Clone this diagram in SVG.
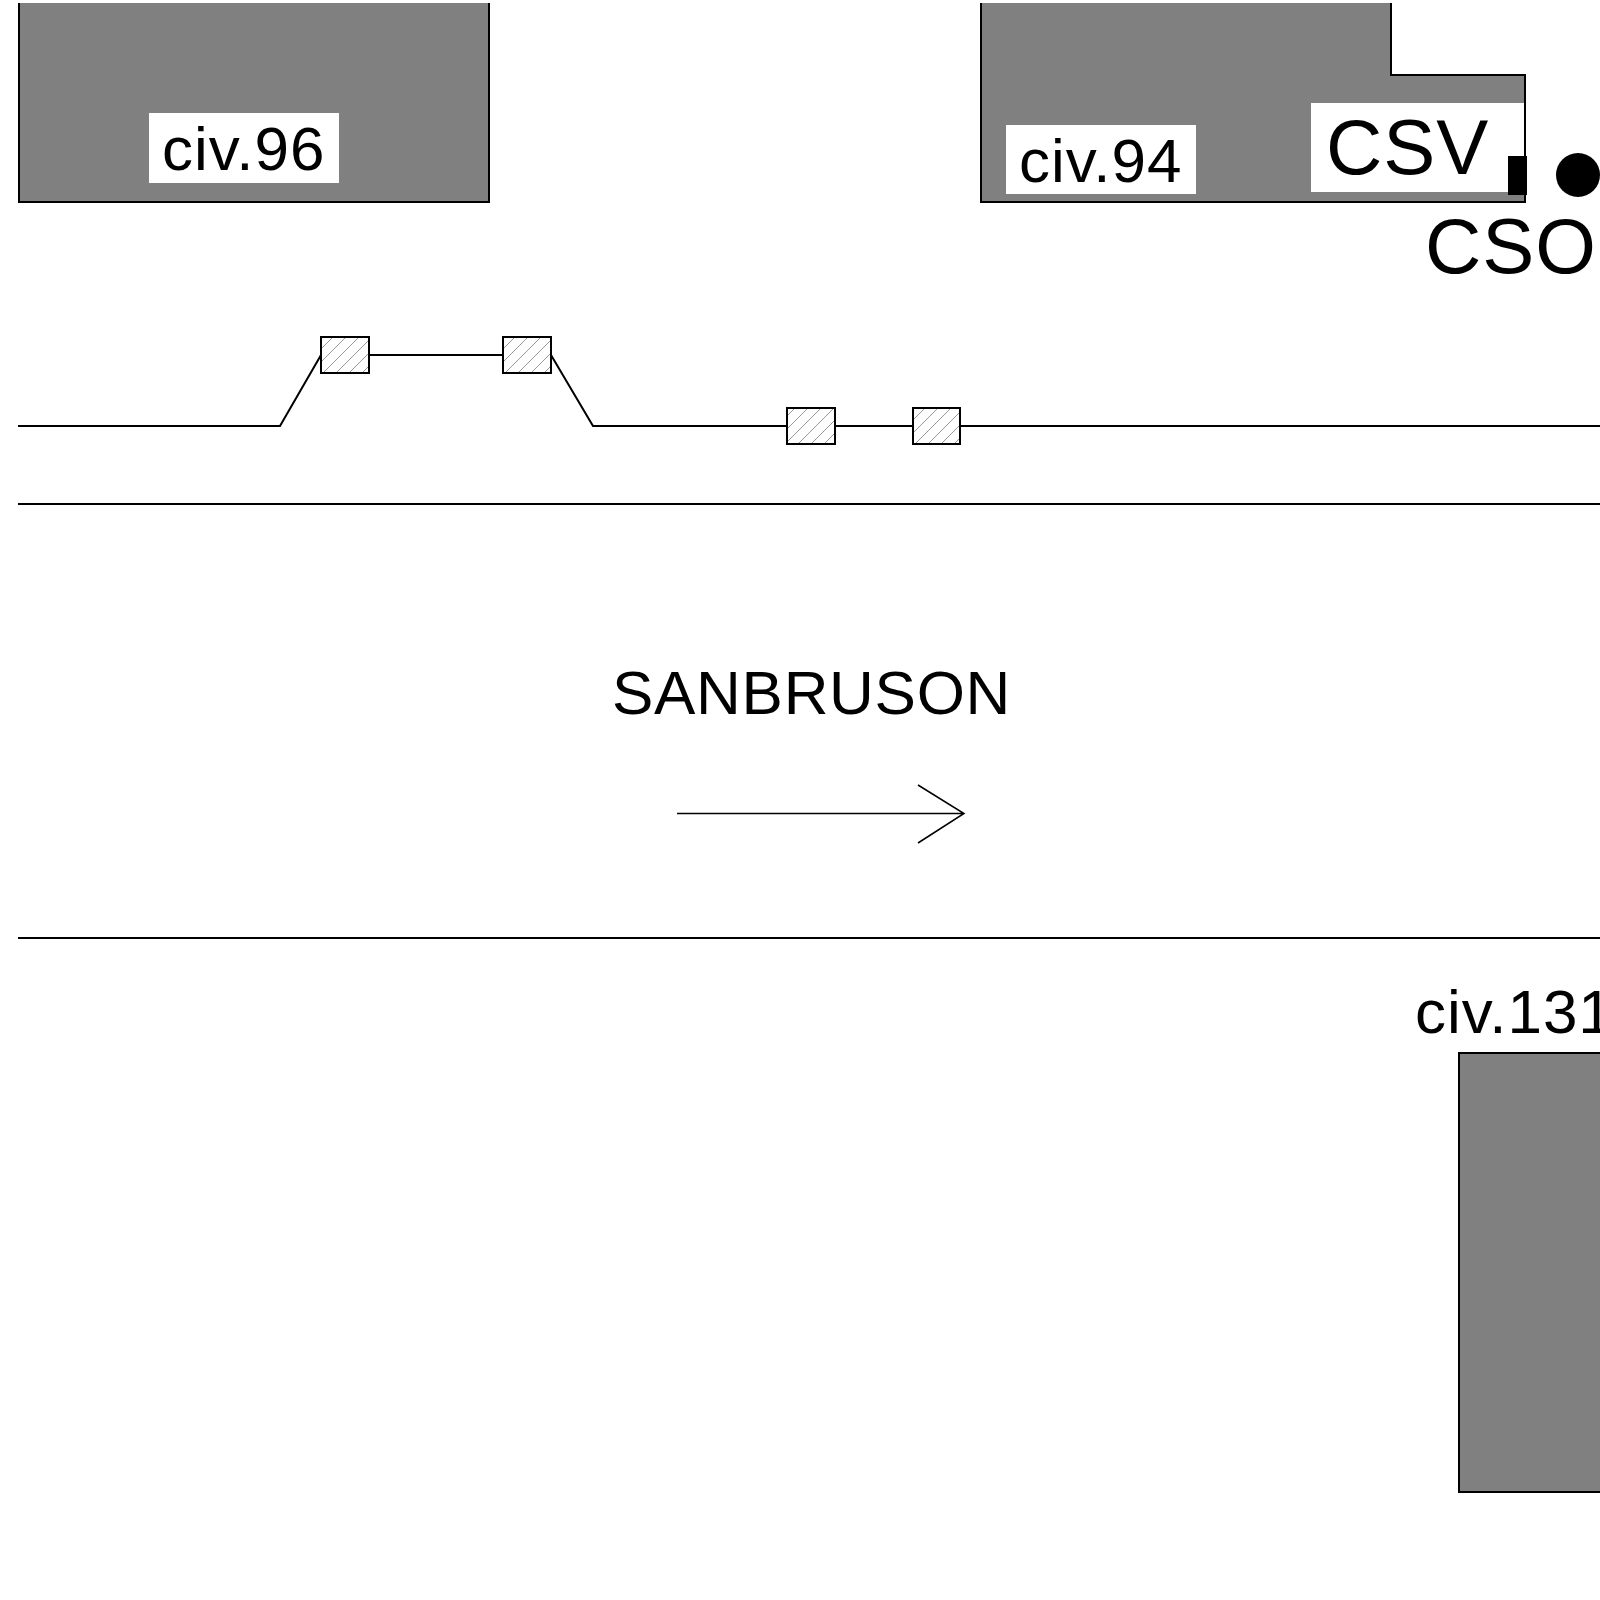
<svg xmlns="http://www.w3.org/2000/svg" width="1600" height="1600" viewBox="0 0 1600 1600">
<style>
.b{fill:#808080;stroke:#000;stroke-width:2}
.w{fill:#fff;stroke:none}
.l{fill:none;stroke:#000;stroke-width:2}
.t{font-family:"Liberation Sans",Arial,sans-serif;fill:#000;letter-spacing:1px}
.h{fill:url(#hatch);stroke:#000;stroke-width:2}
</style>
<defs>
<pattern id="hatch" width="13" height="13" patternUnits="userSpaceOnUse" patternTransform="translate(320 337)">
<rect width="13" height="13" fill="#fff"/>
<path d="M-3 3L3 -3M0 13L13 0M10 16L16 10" stroke="#999" stroke-width="1" fill="none"/>
</pattern>
</defs>
<rect width="1600" height="1600" fill="#fff"/>
<g id="civ96">
<path class="b" d="M19 3V202H489V3"/>
<rect class="w" x="149" y="113" width="190" height="70"/>
<text class="t" x="162" y="170" font-size="62">civ.96</text>
</g>
<g id="civ94">
<path class="b" d="M981 3V202H1525V75H1391V3"/>
<rect class="w" x="1006" y="125" width="190" height="69"/>
<text class="t" x="1019" y="182" font-size="62">civ.94</text>
<rect class="w" x="1311" y="103" width="213" height="89"/>
<text class="t" x="1326" y="174" font-size="78">CSV</text>
</g>
<g id="csv-marker"><rect x="1508" y="156" width="19" height="39" fill="#000"/></g>
<g id="cso">
<circle cx="1578" cy="175" r="22" fill="#000"/>
<text class="t" x="1425" y="273" font-size="78">CSO</text>
</g>
<g id="connectors">
<path class="l" d="M18 426H280L321 355H503M551 355L593 426H1600"/>
<path class="l" d="M18 504H1600M18 938H1600"/>
<path class="l" d="M677 813.5H964M918 785L964 813.5L918 843" style="stroke-width:1.5"/>
</g>
<g id="box1"><rect class="h" x="321" y="337" width="48" height="36"/></g>
<g id="box2"><rect class="h" x="503" y="337" width="48" height="36"/></g>
<g id="box3"><rect class="h" x="787" y="408" width="48" height="36"/></g>
<g id="box4"><rect class="h" x="913" y="408" width="47" height="36"/></g>
<g id="street"><text class="t" x="612" y="714" font-size="62" style="letter-spacing:.7px">SANBRUSON</text></g>
<g id="civ131">
<text class="t" x="1415" y="1033" font-size="62">civ.131</text>
<path class="b" d="M1601 1053H1459V1492H1601"/>
</g>
</svg>
